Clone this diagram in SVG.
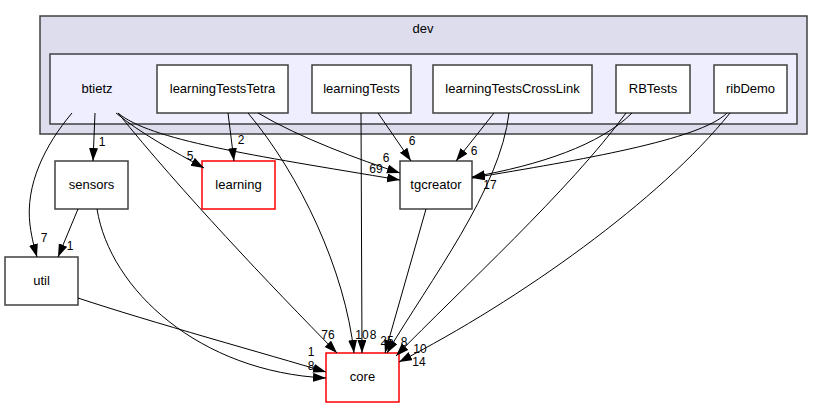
<svg xmlns="http://www.w3.org/2000/svg" width="824" height="407" viewBox="0 0 824 407">
<style>
text{font-family:"Liberation Sans",Arial,Helvetica,sans-serif;fill:#000}
.n{font-size:13px;text-anchor:middle}
.l{font-size:12px;text-anchor:middle}
.box{fill:#fff;stroke:#404040;stroke-width:1.5}
.red{fill:#fff;stroke:#ff0000;stroke-width:1.5}
.e{fill:none;stroke:#000;stroke-width:1}
</style>
<defs>
<marker id="a" markerUnits="userSpaceOnUse" markerWidth="14" markerHeight="10" refX="13" refY="4.5" orient="auto">
<path d="M0,0 L13,4.5 L0,9 Z" fill="#000"/>
</marker>
</defs>
<g id="cluster_dev">
<rect x="40" y="16" width="767" height="118" fill="#ddddee" stroke="#404040" stroke-width="1.5"/>
<text class="n" x="423" y="33">dev</text>
</g>
<g id="cluster_btietz">
<rect x="50" y="54" width="747" height="70" fill="#eeeeff" stroke="#404040" stroke-width="1.5"/>
<text class="n" x="97" y="93">btietz</text>
</g>
<g id="n_learningTestsTetra"><rect class="box" x="157" y="65" width="131" height="48"/><text class="n" x="222.5" y="93">learningTestsTetra</text></g>
<g id="n_learningTests"><rect class="box" x="312" y="65" width="99" height="48"/><text class="n" x="361.5" y="93">learningTests</text></g>
<g id="n_learningTestsCrossLink"><rect class="box" x="433" y="65" width="159" height="48"/><text class="n" x="512.5" y="93">learningTestsCrossLink</text></g>
<g id="n_RBTests"><rect class="box" x="616" y="65" width="74" height="48"/><text class="n" x="653" y="93">RBTests</text></g>
<g id="n_ribDemo"><rect class="box" x="714" y="65" width="73" height="48"/><text class="n" x="750.5" y="93">ribDemo</text></g>
<g id="n_sensors"><rect class="box" x="55" y="161" width="73" height="48"/><text class="n" x="91.5" y="189">sensors</text></g>
<g id="n_learning"><rect class="red" x="202" y="161" width="73" height="48"/><text class="n" x="238.5" y="189">learning</text></g>
<g id="n_tgcreator"><rect class="box" x="400" y="161" width="72" height="48"/><text class="n" x="436" y="189">tgcreator</text></g>
<g id="n_util"><rect class="box" x="5" y="257" width="73" height="48"/><text class="n" x="41.5" y="285">util</text></g>
<g id="n_core"><rect class="red" x="326" y="353" width="73" height="49"/><text class="n" x="362.5" y="381">core</text></g>
<g id="edges">
<path class="e" marker-end="url(#a)" d="M72,113 C45,145 25,185 30,225 C32,240 35,250 37,257"/>
<text class="l" x="44" y="242">7</text>
<path class="e" marker-end="url(#a)" d="M95,113 L93,161"/>
<text class="l" x="102" y="146">1</text>
<path class="e" marker-end="url(#a)" d="M116,113 C140,133 175,152 204,168"/>
<text class="l" x="190" y="160">5</text>
<path class="e" marker-end="url(#a)" d="M118,113 C150,140 250,155 400,180"/>
<text class="l" x="376" y="173">69</text>
<path class="e" marker-end="url(#a)" d="M118,113 C180,190 270,285 337,353"/>
<text class="l" x="328" y="339">76</text>
<path class="e" marker-end="url(#a)" d="M228,113 L234,161"/>
<text class="l" x="241" y="144">2</text>
<path class="e" marker-end="url(#a)" d="M248,113 C300,175 345,270 354,353"/>
<text class="l" x="362" y="339">10</text>
<path class="e" marker-end="url(#a)" d="M258,113 C300,138 360,160 400,173"/>
<text class="l" x="386" y="162">6</text>
<path class="e" marker-end="url(#a)" d="M361,113 L362,353"/>
<text class="l" x="373" y="339">8</text>
<path class="e" marker-end="url(#a)" d="M378,113 L411,161"/>
<text class="l" x="412" y="145">6</text>
<path class="e" marker-end="url(#a)" d="M494,113 L456,161"/>
<text class="l" x="474" y="155">6</text>
<path class="e" marker-end="url(#a)" d="M509,113 C500,190 430,280 387,353"/>
<text class="l" x="404" y="346">8</text>
<path class="e" marker-end="url(#a)" d="M632,113 C600,145 540,165 472,177"/>
<path class="e" marker-end="url(#a)" d="M626,113 C570,190 460,290 396,356"/>
<text class="l" x="420" y="353">10</text>
<path class="e" marker-end="url(#a)" d="M727,113 C700,140 580,160 472,178"/>
<text class="l" x="490" y="189">17</text>
<path class="e" marker-end="url(#a)" d="M730,113 C660,200 520,300 399,362"/>
<text class="l" x="419" y="366">14</text>
<path class="e" marker-end="url(#a)" d="M426,209 L385,353"/>
<text class="l" x="387" y="345">25</text>
<path class="e" marker-end="url(#a)" d="M78,298 C150,322 270,355 326,372"/>
<text class="l" x="311" y="356">1</text>
<path class="e" marker-end="url(#a)" d="M97,209 C110,290 200,372 326,378"/>
<text class="l" x="311" y="370">8</text>
<path class="e" marker-end="url(#a)" d="M78,209 L58,257"/>
<text class="l" x="70" y="250">1</text>
</g>
</svg>
